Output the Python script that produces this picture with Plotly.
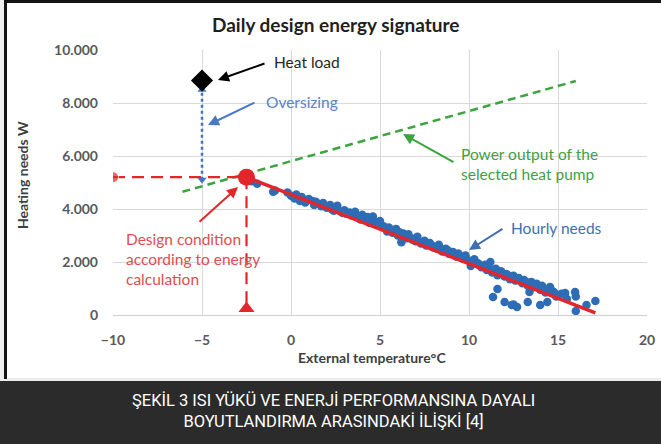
import plotly.graph_objects as go

# ---------------- data ----------------
hourly_temp = [
    -2.2, -1.9, -1.0, -0.9, -0.2, 0.0, 0.2, 0.3, 0.5, 0.6,
    0.8, 1.0, 1.2, 1.3, 1.5, 1.7, 1.8, 2.0, 2.2, 2.3, 2.5, 2.6, 2.8, 3.0, 3.1, 3.3,
    3.5, 3.6, 3.8, 4.0, 4.1, 4.3, 4.5, 4.6, 4.8, 5.0,
    5.2, 5.4, 5.5, 5.7, 5.9, 6.0, 6.2, 6.3, 6.5, 6.6, 6.8, 7.0, 7.1, 7.3, 7.5, 7.6,
    7.8, 8.0, 8.2, 8.3, 8.5, 8.7, 8.9, 9.1, 9.3, 9.4, 9.6, 9.8, 10.0, 10.1, 10.3, 10.5,
    10.7, 10.9, 11.0, 11.2, 11.3, 11.5, 11.6, 11.8, 12.0, 12.1, 12.3, 12.5, 12.6, 12.8,
    13.0, 13.1, 13.3, 13.5, 13.6, 13.8, 14.0, 14.1, 14.3, 14.5, 14.7, 14.9, 15.2, 15.5, 16.0,
    11.35, 11.6, 12.0, 12.4, 12.5, 12.7, 13.3, 13.4, 14.0, 14.4, 14.55, 15.4, 15.96, 16.0, 16.6, 17.1,
    0.9, 1.4, 1.9, 2.4, 2.9, 3.4, 3.9, 4.4, 4.9, 5.3, 5.8, 6.1, 6.4, 6.9, 7.4, 7.9,
    8.4, 8.8, 9.2, 9.7, 10.2, 10.6, 11.1, 11.7, 12.2, 12.7, 13.2, 13.7, 14.2, 14.8,
]
hourly_need = [
    5050, 4950, 4650, 4700, 4620, 4500, 4400, 4550, 4300, 4450,
    4250, 4380, 4300, 4150, 4200, 4100, 4230, 4050, 4150, 3980, 4000, 4120, 3900, 3950, 3820, 3870,
    3780, 3900, 3700, 3780, 3650, 3700, 3600, 3720, 3500, 3550,
    3350, 3150, 3300, 3100, 3250, 3000, 2750, 3080, 2900, 3050, 2850, 2780, 2950, 2700, 2800, 2620,
    2720, 2550, 2500, 2650, 2400, 2500, 2300, 2380, 2200, 2320, 2150, 2250, 2050, 1850, 2100, 1950,
    1800, 1900, 1700, 2000, 1600, 1750, 1500, 1650, 1450, 1550, 1350, 1480, 1300, 1400,
    1200, 1320, 1100, 1250, 1050, 1180, 950, 1100, 850, 1000, 900, 700, 800, 600, 700,
    680, 980, 490, 380, 400, 300, 490, 870, 380, 490, 1060, 830, 870, 150, 380, 530,
    4320, 4270, 4120, 3930, 3850, 3760, 3600, 3480, 3400, 3280, 3160, 3120, 2960, 2880, 2750, 2630,
    2520, 2440, 2300, 2180, 2000, 1880, 1780, 1620, 1500, 1380, 1250, 1130, 1000, 840,
]

signature_temp = [-2.5, 17.1]
signature_need = [5200, 80]

design_temp = -2.5
design_need = 5200

heatpump_temp = [-6.1, 16.0]
heatpump_out = [4650, 8830]

heatload_temp = -5.0
heatload_need = 8850

oversize_need = [5100, 8500]

x_ticks = [-10, -5, 0, 5, 10, 15, 20]
y_ticks = [0, 2000, 4000, 6000, 8000, 10000]
y_ticktext = ["0", "2.000", "4.000", "6.000", "8.000", "10.000"]

# ---------------- layout geometry ----------------
W, H = 661, 444
L, R, T, B = 113, 647, 50, 315
X0, X1, Y0, Y1 = -10, 20, 0, 10000


def px2paper_x(px):
    return (px - L) / (R - L)


def px2paper_y(py):
    return (B - py) / (B - T)


def px2x(px):
    return X0 + (px - L) / (R - L) * (X1 - X0)


def px2y(py):
    return Y0 + (B - py) / (B - T) * (Y1 - Y0)


FONT = "Lato"
BLUE = "#2e6db5"
RED = "#e3262b"
GREEN = "#3aa53e"

fig = go.Figure()

# hourly needs scatter
fig.add_trace(go.Scatter(
    x=hourly_temp, y=hourly_need, mode="markers",
    marker=dict(color=BLUE, size=8.5, line=dict(width=0)),
    hoverinfo="skip", showlegend=False))

# energy signature line
fig.add_trace(go.Scatter(
    x=signature_temp, y=signature_need, mode="lines",
    line=dict(color=RED, width=3.5), showlegend=False, hoverinfo="skip"))

# heat pump power output
fig.add_trace(go.Scatter(
    x=heatpump_temp, y=heatpump_out, mode="lines",
    line=dict(color=GREEN, width=2.5, dash="8px,5px"), showlegend=False, hoverinfo="skip"))

# red dashed horizontal
fig.add_trace(go.Scatter(
    x=[X0, design_temp], y=[design_need, design_need], mode="lines+markers",
    line=dict(color=RED, width=2.2, dash="12px,7px"),
    marker=dict(color=RED, size=[11, 0], symbol="circle"),
    showlegend=False, hoverinfo="skip"))

# red dashed vertical
fig.add_trace(go.Scatter(
    x=[design_temp, design_temp], y=[design_need, 250], mode="lines",
    line=dict(color=RED, width=2.2, dash="12px,7px"),
    showlegend=False, hoverinfo="skip"))
fig.add_trace(go.Scatter(
    x=[design_temp], y=[250], mode="markers",
    marker=dict(color=RED, size=14, symbol="triangle-up", line=dict(width=0)),
    cliponaxis=False, showlegend=False, hoverinfo="skip"))

# oversizing dotted
fig.add_trace(go.Scatter(
    x=[heatload_temp, heatload_temp], y=oversize_need, mode="lines+markers",
    line=dict(color="#4472c4", width=2.5, dash="dot"),
    marker=dict(color="#4472c4", size=8, symbol=["triangle-down", "triangle-up"]),
    showlegend=False, hoverinfo="skip"))

# design point
fig.add_trace(go.Scatter(
    x=[design_temp], y=[design_need], mode="markers",
    marker=dict(color=RED, size=17), showlegend=False, hoverinfo="skip"))

# heat load diamond
fig.add_trace(go.Scatter(
    x=[heatload_temp], y=[heatload_need], mode="markers",
    marker=dict(color="black", size=17, symbol="diamond"),
    showlegend=False, hoverinfo="skip"))

annotations = []


def arrow(head, tail, color):
    annotations.append(dict(
        x=px2x(head[0]), y=px2y(head[1]), ax=px2x(tail[0]), ay=px2y(tail[1]),
        xref="x", yref="y", axref="x", ayref="y", text="", showarrow=True,
        arrowhead=2, arrowsize=1.1, arrowwidth=2, arrowcolor=color))


def label(text, px, py, color, size=15.5, anchor="left"):
    annotations.append(dict(
        x=px2x(px), y=px2y(py), xref="x", yref="y", text=text, showarrow=False,
        xanchor=anchor, yanchor="middle", align="left",
        font=dict(family=FONT, size=size, color=color)))


arrow((218, 80), (266, 63), "black")
arrow((208, 125), (256, 102), "#4a78c2")
arrow((403, 134), (455, 163), GREEN)
arrow((469, 250), (504, 228), "#3f6fb0")
arrow((238, 187), (198, 223), RED)

label("Heat load", 272, 62, "#262626")
label("Oversizing", 264, 102, "#5a82c6")
label("Power output of the<br>selected heat pump", 459, 164, "#3f9f45")
label("Hourly needs", 509, 228, "#3f6fb0")
label("Design condition<br>according to energy<br>calculation", 124, 259, "#de4e4e")

# title
annotations.append(dict(
    x=px2paper_x(335), y=px2paper_y(24), xref="paper", yref="paper",
    text="<b>Daily design energy signature</b>", showarrow=False,
    xanchor="center", yanchor="middle",
    font=dict(family=FONT, size=19, color="#1f1f1f")))

# axis titles
annotations.append(dict(
    x=px2paper_x(372), y=px2paper_y(357), xref="paper", yref="paper",
    text="<b>External temperature°C</b>", showarrow=False,
    xanchor="center", yanchor="middle",
    font=dict(family=FONT, size=14, color="#404040")))
annotations.append(dict(
    x=px2paper_x(22), y=px2paper_y(175), xref="paper", yref="paper",
    text="<b>Heating needs W</b>", showarrow=False, textangle=-90,
    xanchor="center", yanchor="middle",
    font=dict(family=FONT, size=14, color="#404040")))

# caption
annotations.append(dict(
    x=px2paper_x(333), y=px2paper_y(411), xref="paper", yref="paper",
    text="ŞEKİL 3 ISI YÜKÜ VE ENERJİ PERFORMANSINA DAYALI<br>BOYUTLANDIRMA ARASINDAKİ İLİŞKİ [4]",
    showarrow=False, xanchor="center", yanchor="middle", align="center",
    font=dict(family="Roboto", size=16.5, color="white")))

shapes = [
    # caption band
    dict(type="rect", xref="paper", yref="paper",
         x0=px2paper_x(-2), x1=px2paper_x(W + 2), y0=px2paper_y(381), y1=px2paper_y(H + 2),
         fillcolor="#2b2b2b", line=dict(width=0), layer="below"),
    # thin light strip above band
    dict(type="rect", xref="paper", yref="paper",
         x0=px2paper_x(-2), x1=px2paper_x(W + 2), y0=px2paper_y(378), y1=px2paper_y(381),
         fillcolor="#ececec", line=dict(width=0), layer="below"),
    # light strip at left
    dict(type="rect", xref="paper", yref="paper",
         x0=px2paper_x(-2), x1=px2paper_x(4), y0=px2paper_y(-2), y1=px2paper_y(381),
         fillcolor="#efefef", line=dict(width=0), layer="below"),
    # black left border
    dict(type="rect", xref="paper", yref="paper",
         x0=px2paper_x(4), x1=px2paper_x(7), y0=px2paper_y(0), y1=px2paper_y(379),
         fillcolor="#141414", line=dict(width=0), layer="below"),
    # black top border
    dict(type="rect", xref="paper", yref="paper",
         x0=px2paper_x(4), x1=px2paper_x(W + 2), y0=px2paper_y(-2), y1=px2paper_y(3),
         fillcolor="#141414", line=dict(width=0), layer="below"),
]

fig.update_layout(
    width=W, height=H,
    margin=dict(l=L, r=W - R, t=T, b=H - B, pad=0, autoexpand=False),
    paper_bgcolor="white", plot_bgcolor="white",
    showlegend=False,
    annotations=annotations, shapes=shapes,
    xaxis=dict(range=[X0, X1], tickvals=x_ticks, showgrid=True, gridcolor="#d9d9d9",
               gridwidth=1, zeroline=False, showline=True, linecolor="#cfcfcf",
               linewidth=1, ticks="", ticklabelstandoff=12, automargin=False,
               tickfont=dict(family=FONT, size=14, color="#595959", weight="bold")),
    yaxis=dict(range=[Y0, Y1], tickvals=y_ticks, ticktext=y_ticktext, showgrid=True,
               gridcolor="#d9d9d9", gridwidth=1, zeroline=False, showline=False,
               ticks="", ticklabelstandoff=14, automargin=False,
               tickfont=dict(family=FONT, size=14, color="#595959", weight="bold")),
)

fig.write_html(
    "out.html",
    config={"displayModeBar": False},
    post_script="document.body.style.margin='0';document.body.style.overflow='hidden';",
)
